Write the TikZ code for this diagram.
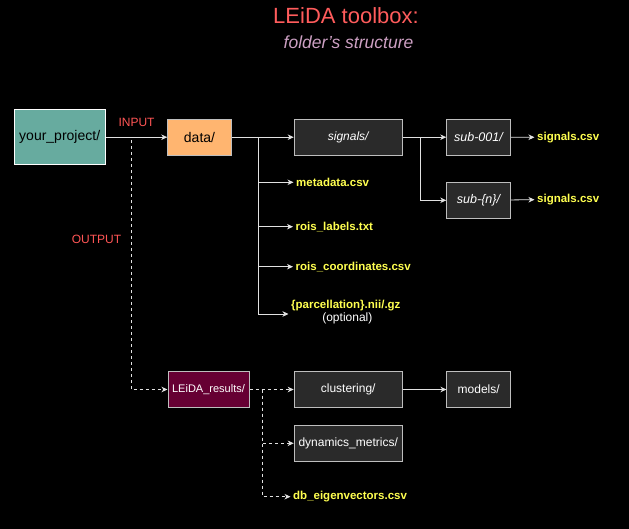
\documentclass[tikz,border=0pt]{standalone}
\usepackage{fontspec}
\setmainfont{Liberation Sans}
\usetikzlibrary{arrows.meta}
\definecolor{titlered}{RGB}{255,92,92}
\definecolor{subcol}{RGB}{205,160,195}
\definecolor{labred}{RGB}{255,85,85}
\definecolor{tealfill}{RGB}{103,171,159}
\definecolor{orangefill}{RGB}{255,181,112}
\definecolor{maroonfill}{RGB}{102,0,51}
\definecolor{darkfill}{RGB}{42,42,42}
\definecolor{boxline}{RGB}{190,190,190}
\definecolor{linecol}{RGB}{225,225,225}
\definecolor{leafyellow}{RGB}{255,255,80}
\begin{document}
\begin{tikzpicture}[x=1pt,y=-1pt,
  box/.style={draw=boxline, line width=1pt, minimum height=36pt, inner sep=0pt, font=\fontsize{12}{14}\selectfont},
  darkbox/.style={box, fill=darkfill, text=white},
  leaf/.style={text=leafyellow, font=\bfseries\fontsize{11.5}{13}\selectfont, inner xsep=2.5pt, inner ysep=0pt, anchor=west},
  conn/.style={draw=linecol, line width=0.8pt, -{Stealth[length=6pt,width=5.5pt,inset=1.8pt]}},
  dconn/.style={conn, dash pattern=on 3pt off 3pt},
  lab/.style={text=labred, font=\fontsize{12}{14}\selectfont, inner sep=0pt}
]
\fill[black] (0,0) rectangle (629,529);
\useasboundingbox (0,0) rectangle (629,529);

% titles
\node[text=titlered, font=\fontsize{22}{26}\selectfont, inner sep=0pt] (title) at (346,16) {LEiDA toolbox:};
\node[text=subcol, font=\itshape\fontsize{17.5}{20}\selectfont, inner sep=0pt] (subtitle) at (348.5,42) {folder{\char"0027}s structure};

% main boxes
\node[box, draw=white, line width=1.3pt, fill=tealfill, minimum width=91pt, minimum height=55pt, font=\fontsize{14}{16}\selectfont] (yp) at (59.7,136.8) {your\_project/};
\node[box, fill=orangefill, minimum width=63.5pt, font=\fontsize{14}{16}\selectfont] (data) at (199.5,137.2) {data/};
\node[darkbox, minimum width=108pt, font=\itshape\fontsize{12}{14}\selectfont] (signals) at (348.2,137.2) {signals/};
\node[darkbox, minimum width=63.5pt, font=\itshape\fontsize{12.5}{14}\selectfont] (sub1) at (478.5,137.2) {sub-001/};
\node[darkbox, minimum width=63.5pt, font=\itshape\fontsize{12.5}{14}\selectfont] (subn) at (478.5,200.3) {sub-\{n\}/};

\node[box, fill=maroonfill, text=white, minimum width=81pt, font=\fontsize{11}{13}\selectfont] (lres) at (208.5,389.5) {LEiDA\_results/};
\node[darkbox, minimum width=108pt] (clust) at (348.2,389.5) {clustering/};
\node[darkbox, minimum width=63.5pt] (models) at (478.7,389.5) {models/};
\node[darkbox, minimum width=108pt] (dyn) at (348.2,443.3) {dynamics\_metrics/};

% leaves
\node[leaf] (sig1) at (534.5,137.3) {signals.csv};
\node[leaf] (sig2) at (534.5,199.3) {signals.csv};
\node[leaf] (meta) at (293.5,182.3) {metadata.csv};
\node[leaf] (rlab) at (293,226.7) {rois\_labels.txt};
\node[leaf] (rcoord) at (293,266.7) {rois\_coordinates.csv};
\node[leaf, anchor=south west, inner ysep=0pt] (parc) at (288.5,311) {\{parcellation\}.nii/.gz};
\node[text=white, font=\fontsize{12}{14}\selectfont, inner sep=0pt, anchor=north] (opt) at ([xshift=1.5pt,yshift=-1.5pt]parc.south) {(optional)};
\node[leaf] (db) at (290.5,496.7) {db\_eigenvectors.csv};

% labels
\node[lab] (input) at (136.5,122.5) {INPUT};
\node[lab] (output) at (96.5,239.5) {OUTPUT};

% connectors
\draw[conn] (yp.east |- data.west) -- (data.west);
\draw[conn] (data) -- (signals);
\coordinate (bx) at (258.3,137.2);
\draw[conn] (bx) |- (meta.west);
\draw[conn] (bx) |- (rlab.west);
\draw[conn] (bx) |- (rcoord.west);
\draw[conn] (bx) |- ([yshift=-3pt]parc.south west);

\draw[conn] (signals) -- (sub1);
\coordinate (sx) at (420,137.2);
\draw[conn] (sx) |- (subn.west);
\draw[conn] (sub1) -- (sig1);
\draw[conn] (subn) -- (sig2);

\coordinate (ox) at (131,140);
\draw[dconn] (ox) |- (lres.west);
\draw[dconn] (lres) -- (clust);
\coordinate (lx) at (262.7,389.5);
\draw[dconn] (lx) |- (dyn.west);
\draw[dconn] (lx) |- (db.west);
\draw[conn] (clust) -- (models);
\end{tikzpicture}
\end{document}
